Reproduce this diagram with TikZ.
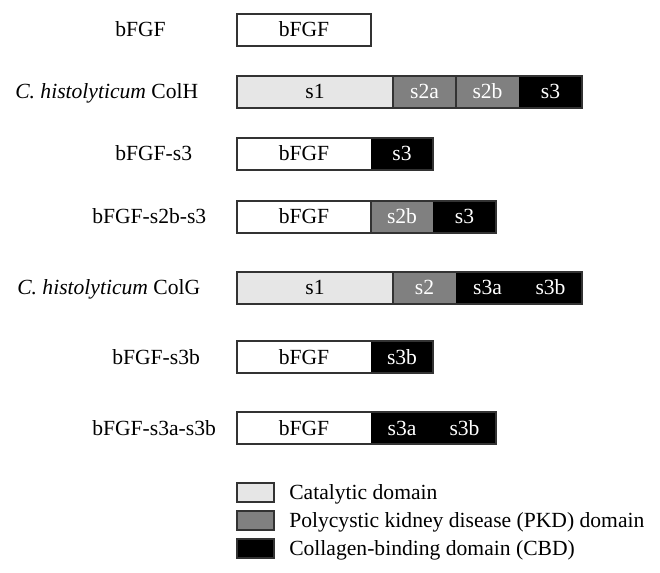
\documentclass[tikz,border=0pt]{standalone}
\usepackage{fontspec}
\setmainfont{Liberation Serif}
\definecolor{catal}{HTML}{E6E6E6}
\definecolor{pkd}{HTML}{808080}
\definecolor{edge}{HTML}{333333}
\begin{document}
\begin{tikzpicture}[x=0.75pt,y=-0.75pt,
  txt/.style={font=\fontsize{16.2}{19}\selectfont, inner sep=0pt, anchor=base},
  wtxt/.style={txt, text=white},
  seg/.style={draw=edge, line width=0.8pt},
  lbl/.style={txt, anchor=base west}]
\useasboundingbox (0,0) rectangle (660,573);
% Row 1: bFGF  (box 14-46, baseline 37)
\node[lbl] (l1) at (115,37) {bFGF};
\draw[seg, fill=white] (237,14) rectangle (371,46);
\node[txt] (b1) at (304,37) {bFGF};
% Row 2: ColH (76-108)
\node[lbl] (l2) at (15,99) {\textit{C. histolyticum} ColH};
\fill[catal] (237,76) rectangle (393,108);
\fill[pkd] (393,76) rectangle (519,108);
\fill[black] (519,76) rectangle (582,108);
\draw[seg] (237,76) rectangle (582,108);
\draw[seg] (393,76) -- (393,108);
\draw[seg] (456,76) -- (456,108);
\node[txt] (c1) at (315,99) {s1};
\node[wtxt] (c2) at (424.5,99) {s2a};
\node[wtxt] (c3) at (487.5,99) {s2b};
\node[wtxt] (c4) at (550.5,99) {s3};
% Row 3: bFGF-s3 (138-170)
\node[lbl] (l3) at (115,161) {bFGF-s3};
\fill[white] (237,138) rectangle (371,170);
\fill[black] (371,138) rectangle (433,170);
\draw[seg] (237,138) rectangle (433,170);
\node[txt] (d1) at (304,161) {bFGF};
\node[wtxt] (d2) at (402,161) {s3};
% Row 4: bFGF-s2b-s3 (201-233)
\node[lbl] (l4) at (92,224) {bFGF-s2b-s3};
\fill[white] (237,201) rectangle (371,233);
\fill[pkd] (371,201) rectangle (433,233);
\fill[black] (433,201) rectangle (496,233);
\draw[seg] (237,201) rectangle (496,233);
\draw[seg] (371,201) -- (371,233);
\node[txt] (e1) at (304,224) {bFGF};
\node[wtxt] (e2) at (402,224) {s2b};
\node[wtxt] (e3) at (464.5,224) {s3};
% Row 5: ColG (272-304)
\node[lbl] (l5) at (17,295) {\textit{C. histolyticum} ColG};
\fill[catal] (237,272) rectangle (393,304);
\fill[pkd] (393,272) rectangle (456,304);
\fill[black] (456,272) rectangle (582,304);
\draw[seg] (237,272) rectangle (582,304);
\draw[seg] (393,272) -- (393,304);
\node[txt] (f1) at (315,295) {s1};
\node[wtxt] (f2) at (424.5,295) {s2};
\node[wtxt] (f3) at (487.5,295) {s3a};
\node[wtxt] (f4) at (550.5,295) {s3b};
% Row 6: bFGF-s3b (341-373)
\node[lbl] (l6) at (112,364) {bFGF-s3b};
\fill[white] (237,341) rectangle (371,373);
\fill[black] (371,341) rectangle (433,373);
\draw[seg] (237,341) rectangle (433,373);
\node[txt] (g1) at (304,364) {bFGF};
\node[wtxt] (g2) at (402,364) {s3b};
% Row 7: bFGF-s3a-s3b (412-444)
\node[lbl] (l7) at (92,435) {bFGF-s3a-s3b};
\fill[white] (237,412) rectangle (371,444);
\fill[black] (371,412) rectangle (496,444);
\draw[seg] (237,412) rectangle (496,444);
\node[txt] (h1) at (304,435) {bFGF};
\node[wtxt] (h2) at (402,435) {s3a};
\node[wtxt] (h3) at (464.5,435) {s3b};
% Legend
\draw[seg, fill=catal] (237,483) rectangle (274,502);
\node[lbl] (k1) at (289,499) {Catalytic domain};
\draw[seg, fill=pkd] (237,511) rectangle (274,530);
\node[lbl] (k2) at (289,527) {Polycystic kidney disease (PKD) domain};
\draw[seg, fill=black] (237,539) rectangle (274,558);
\node[lbl] (k3) at (289,555) {Collagen-binding domain (CBD)};
\end{tikzpicture}
\end{document}
